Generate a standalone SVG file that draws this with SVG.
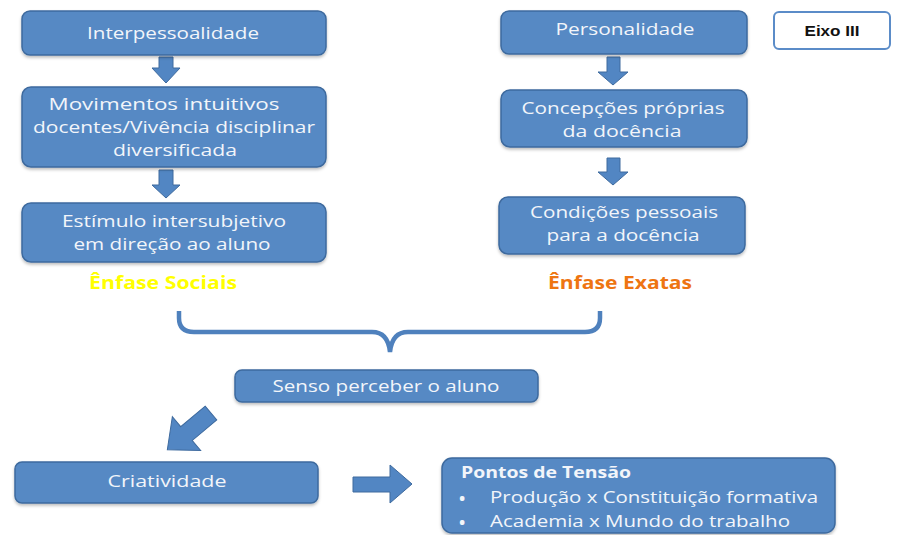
<svg xmlns="http://www.w3.org/2000/svg" width="902" height="535" viewBox="0 0 902 535">
<defs>
<filter id="sh" x="-5%" y="-10%" width="110%" height="130%">
<feDropShadow dx="0" dy="2" stdDeviation="1.5" flood-color="#000" flood-opacity="0.25"/>
</filter>
</defs>
<style>
.box{fill:#5789C4;stroke:#3E6A9E;stroke-width:1.5;filter:url(#sh)}
.t{font-family:"Open Sans","Liberation Sans",sans-serif;font-size:16.5px;fill:#F2F5FA;text-anchor:middle}
.tl{font-family:"Open Sans","Liberation Sans",sans-serif;font-size:16.5px;fill:#F2F5FA}
.b{font-weight:bold}
.arr{fill:#5286C3;stroke:#3E6A9E;stroke-width:1}
.emph{font-family:"Open Sans","Liberation Sans",sans-serif;font-size:17px;font-weight:bold;text-anchor:middle}
</style>
<rect width="902" height="535" fill="#fff"/>

<g id="connectors">
<polygon class="arr" points="159,57 173,57 173,68 180,68 166,83 152,68 159,68"/>
<polygon class="arr" points="159,170 173,170 173,185 180,185 166,198 152,185 159,185"/>
<polygon class="arr" points="607,57 620,57 620,72 628,72 613,85 598,72 607,72"/>
<polygon class="arr" points="607,158 620,158 620,172 628,172 613,185 598,172 607,172"/>
<path d="M179,311 V318 Q179,332 194,332 H372 Q388,332 390,352 Q392,332 408,332 H585 Q600,332 600,318 V311" fill="none" stroke="#4F81BD" stroke-width="4.5"/>
<polygon class="arr" transform="translate(211,413) rotate(140)" points="0,-9 32,-9 32,-22 57,0 32,22 32,9 0,9"/>
<polygon class="arr" points="353,477 390,477 390,465 412,484 390,503 390,492 353,492"/>
</g>

<g id="n-interpessoalidade">
<rect class="box" x="22" y="11" width="304" height="44" rx="8"/>
<text class="t" x="173" y="39" textLength="172" lengthAdjust="spacingAndGlyphs">Interpessoalidade</text>
</g>
<g id="n-movimentos">
<rect class="box" x="22" y="87" width="304" height="80" rx="9"/>
<text class="t" x="164" y="110" textLength="231" lengthAdjust="spacingAndGlyphs">Movimentos intuitivos</text>
<text class="t" x="174" y="133" textLength="282" lengthAdjust="spacingAndGlyphs">docentes/Vivência disciplinar</text>
<text class="t" x="175" y="156" textLength="124" lengthAdjust="spacingAndGlyphs">diversificada</text>
</g>
<g id="n-estimulo">
<rect class="box" x="22" y="203" width="304" height="59" rx="9"/>
<text class="t" x="174" y="227" textLength="224" lengthAdjust="spacingAndGlyphs">Estímulo intersubjetivo</text>
<text class="t" x="172" y="250" textLength="197" lengthAdjust="spacingAndGlyphs">em direção ao aluno</text>
</g>
<g id="l-sociais">
<text class="emph" x="163" y="289" fill="#FFFF00" textLength="148" lengthAdjust="spacingAndGlyphs">Ênfase Sociais</text>
</g>

<g id="n-personalidade">
<rect class="box" x="501" y="11" width="246" height="43" rx="8"/>
<text class="t" x="625" y="35" textLength="139" lengthAdjust="spacingAndGlyphs">Personalidade</text>
</g>
<g id="n-concepcoes">
<rect class="box" x="501" y="90" width="246" height="57" rx="9"/>
<text class="t" x="623" y="114" textLength="203" lengthAdjust="spacingAndGlyphs">Concepções próprias</text>
<text class="t" x="622" y="137" textLength="119" lengthAdjust="spacingAndGlyphs">da docência</text>
</g>
<g id="n-condicoes">
<rect class="box" x="499" y="197" width="246" height="57" rx="9"/>
<text class="t" x="624" y="218" textLength="188" lengthAdjust="spacingAndGlyphs">Condições pessoais</text>
<text class="t" x="623" y="241" textLength="153" lengthAdjust="spacingAndGlyphs">para a docência</text>
</g>
<g id="l-exatas">
<text class="emph" x="620" y="289" fill="#EE7512" textLength="144" lengthAdjust="spacingAndGlyphs">Ênfase Exatas</text>
</g>

<g id="n-eixo">
<rect x="774" y="12" width="116" height="37" rx="5" fill="#fff" stroke="#5B8CC8" stroke-width="2"/>
<text x="832" y="36" font-family="Liberation Sans,Arial,sans-serif" font-size="15" font-weight="bold" fill="#111" text-anchor="middle" textLength="55" lengthAdjust="spacingAndGlyphs">Eixo III</text>
</g>

<g id="n-senso">
<rect class="box" x="235" y="370" width="303" height="32" rx="7"/>
<text class="t" x="386" y="392" textLength="227" lengthAdjust="spacingAndGlyphs">Senso perceber o aluno</text>
</g>

<g id="n-criatividade">
<rect class="box" x="15" y="462" width="303" height="41" rx="7"/>
<text class="t" x="167" y="487" textLength="119" lengthAdjust="spacingAndGlyphs">Criatividade</text>
</g>

<g id="n-pontos">
<rect class="box" x="442" y="458" width="393" height="75" rx="10"/>
<text class="tl b" x="461" y="478" textLength="170" lengthAdjust="spacingAndGlyphs">Pontos de Tensão</text>
<text class="tl b" x="459" y="504" font-size="19">•</text>
<text class="tl" x="490" y="503" textLength="328" lengthAdjust="spacingAndGlyphs">Produção x Constituição formativa</text>
<text class="tl b" x="459" y="528" font-size="19">•</text>
<text class="tl" x="490" y="527" textLength="300" lengthAdjust="spacingAndGlyphs">Academia x Mundo do trabalho</text>
</g>
</svg>
